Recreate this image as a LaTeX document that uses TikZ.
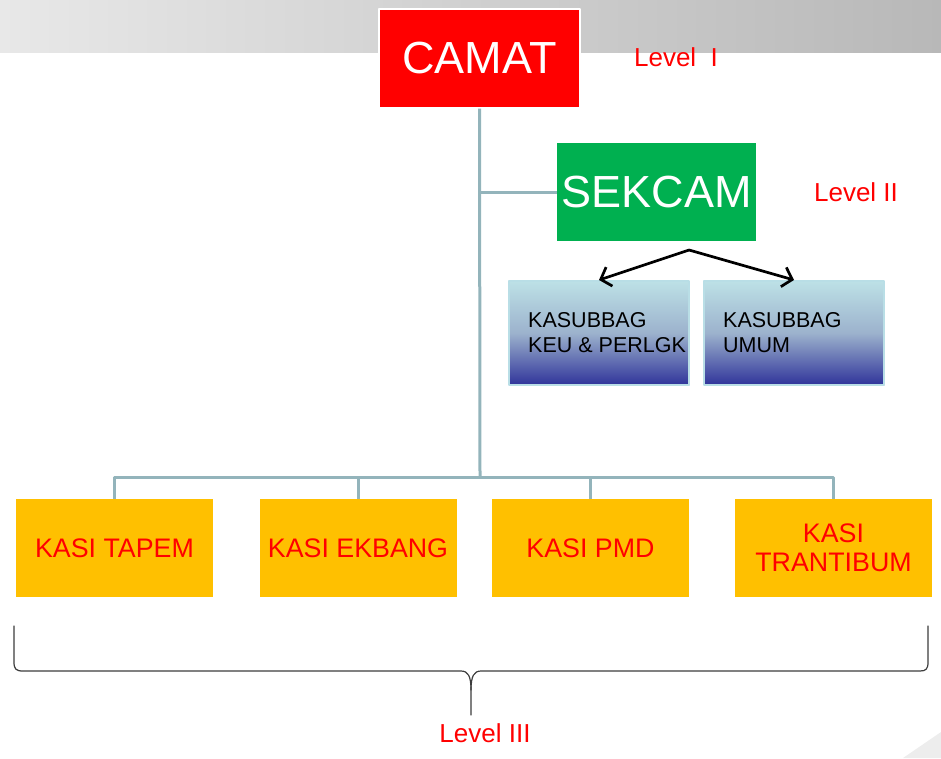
\documentclass[tikz,border=0pt]{standalone}
\usepackage{fontspec}
\setmainfont{Liberation Sans}
\usetikzlibrary{arrows.meta}
\definecolor{camatred}{HTML}{FF0000}
\definecolor{sekgreen}{HTML}{00B050}
\definecolor{kasiyellow}{HTML}{FFC000}
\definecolor{linegray}{HTML}{93B4BB}
\definecolor{kstop}{HTML}{BDE1E6}
\definecolor{ksmid}{HTML}{9CB2CD}
\definecolor{ksbot}{HTML}{30349A}
\definecolor{ksedge}{HTML}{B9DEE6}
\definecolor{bandl}{HTML}{E8E8E8}
\definecolor{bandr}{HTML}{B8B8B8}
\definecolor{bracegray}{HTML}{3C3C3C}

\begin{document}
\begin{tikzpicture}[line cap=round,line join=round,>={Straight Barb[length=9pt,width=20pt]},x=1pt,y=-1pt,
  conn/.style={draw=linegray,line width=3pt,line cap=butt},
  topbox/.style={minimum width=199pt,minimum height=98pt,inner sep=0pt,text=white,font=\fontsize{45}{50}\selectfont},
  kasi/.style={fill=kasiyellow,minimum width=197pt,minimum height=98pt,inner sep=0pt,text=red,align=center,font=\fontsize{26.8}{29}\selectfont},
  subbox/.style={top color=kstop,bottom color=ksbot,middle color=ksmid,draw=ksedge,line width=2pt,minimum width=180pt,minimum height=104pt,inner sep=0pt},
  subtext/.style={anchor=west,align=left,inner sep=0pt,font=\fontsize{21.5}{25}\selectfont},
  lvl/.style={text=red,inner sep=0pt,font=\fontsize{26}{30}\selectfont}]
\useasboundingbox (0,0) rectangle (941,758);
\shade [left color=bandl,right color=bandr] (0,0) rectangle (941,52);
\fill [black!7] (903,758)--(941,732)--(941,758)--cycle;

\node [topbox,fill=camatred,draw=white,line width=2pt,minimum width=201pt,minimum height=99pt] (camat) at (479.5,58) {CAMAT};
\node [topbox,fill=sekgreen] (sekcam) at (656.5,192) {SEKCAM};
\node [subbox] (keu) at (599,333) {};
\node [subbox] (umum) at (794,333) {};
\node [subtext] at ([xshift=20pt]keu.west) {KASUBBAG\\KEU \& PERLGK};
\node [subtext] at ([xshift=20pt]umum.west) {KASUBBAG\\UMUM};
\node [kasi] (tapem) at (114.5,548) {KASI TAPEM};
\node [kasi] (ekbang) at (358,548) {KASI EKBANG};
\node [kasi] (pmd) at (590.5,548) {KASI PMD};
\node [kasi] (trantibum) at (833.5,548) {KASI\\TRANTIBUM};

\node [lvl] at (676,57) {Level~~I};
\node [lvl] at (856,192) {Level II};
\node [lvl] at (485,733) {Level III};

\coordinate (bus) at (480,477);
\coordinate (fork) at (689,250);
\draw [conn] (camat.south) -- (bus);
\draw [conn] (camat.south |- sekcam.west) -- (sekcam.west);
\draw [conn] (tapem.north) -- (tapem.north |- bus) -- (trantibum.north |- bus) -- (trantibum.north);
\foreach \k in {ekbang,pmd} \draw [conn] (\k.north) -- (\k.north |- bus);
\draw [->,line width=2.7pt] (fork) -- (keu.north);
\draw [->,line width=2.7pt] (fork) -- (umum.north);

\draw [bracegray,line width=1.2pt] (14,626) -- (14,662) .. controls (14,669) and (16,671) .. (23,671) -- (461,671) .. controls (468,671) and (471,676) .. (471,690) -- (471,715);
\draw [bracegray,line width=1.2pt] (471,690) .. controls (471,676) and (474,671) .. (481,671) -- (920,671) .. controls (926,671) and (928,669) .. (928,662) -- (928,626);
%\draw [red] (0,477) -- (941,477);
\end{tikzpicture}
\end{document}
